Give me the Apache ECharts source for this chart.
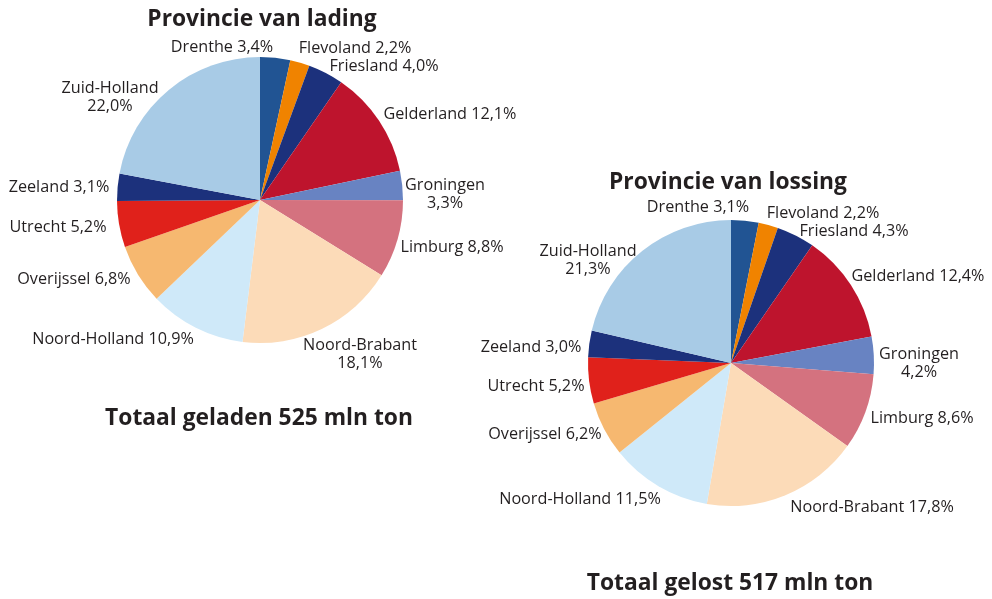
<!DOCTYPE html>
<html>
<head>
<meta charset="utf-8">
<script src="https://cdn.jsdelivr.net/npm/echarts@6/dist/echarts.min.js"></script>
<style>
  html, body { margin: 0; padding: 0; background: #fff; }
  #chart { width: 992px; height: 599px; }
</style>
</head>
<body>
<div id="chart"></div>
<script>
const provinces = ['Drenthe', 'Flevoland', 'Friesland', 'Gelderland', 'Groningen', 'Limburg',
  'Noord-Brabant', 'Noord-Holland', 'Overijssel', 'Utrecht', 'Zeeland', 'Zuid-Holland']
const colors = ['#215493', '#f08300', '#1c317c', '#be142d', '#6883c2', '#d4727f',
  '#fcdbb8', '#cfe9f9', '#f6b870', '#e0211b', '#1c317c', '#a8cbe6']

// aandeel in procent
const lading = [3.4, 2.2, 4.0, 12.1, 3.3, 8.8, 18.1, 10.9, 6.8, 5.2, 3.1, 22.0]
const lossing = [3.1, 2.2, 4.3, 12.4, 4.2, 8.6, 17.8, 11.5, 6.2, 5.2, 3.0, 21.3]

const totaalLading = 525
const totaalLossing = 517

// labels die over twee regels gaan
const wrapLading = ['Groningen', 'Noord-Brabant', 'Zuid-Holland']
const wrapLossing = ['Groningen', 'Zuid-Holland']

// labelposities (midden van de tekst)
const labelPosLading = [[222, 45], [355, 46], [384, 64], [450, 112], [445, 192], [452, 245],
  [360, 352], [113, 337], [74, 277], [58, 225], [59, 185], [110, 95]]
const labelPosLossing = [[698, 205], [823, 211], [854, 229], [918, 274], [919, 361], [922, 416],
  [872, 505], [580, 497], [545, 432], [536, 384], [531, 345], [588, 258]]

const font = 'Open Sans'

function pieSeries (values, wrap, pos, center) {
  return {
    type: 'pie',
    center: center,
    radius: 143,
    startAngle: 90,
    clockwise: true,
    avoidLabelOverlap: false,
    silent: true,
    itemStyle: { borderWidth: 0 },
    labelLine: { show: false },
    label: {
      show: true,
      position: 'outside',
      color: '#231f20',
      fontFamily: font,
      fontSize: 16.2,
      lineHeight: 18,
      align: 'center',
      formatter: p => {
        const v = p.value.toFixed(1).replace('.', ',') + '%'
        return wrap.includes(p.name) ? p.name + '\n' + v : p.name + ' ' + v
      }
    },
    labelLayout: p => ({
      x: pos[p.dataIndex][0],
      y: pos[p.dataIndex][1] + 2,
      align: 'center',
      verticalAlign: 'middle'
    }),
    data: provinces.map((name, i) => ({
      name: name,
      value: values[i],
      itemStyle: { color: colors[i] }
    }))
  }
}

const titleStyle = { color: '#231f20', fontFamily: font, fontWeight: 'bold', fontSize: 22.8 }

const chart = echarts.init(document.getElementById('chart'))
chart.setOption({
  animation: false,
  title: [
    { text: 'Provincie van lading', left: 257, top: 3, textAlign: 'center', textStyle: titleStyle },
    { text: 'Totaal geladen ' + totaalLading + ' mln ton', left: 254, top: 402, textAlign: 'center', textStyle: titleStyle },
    { text: 'Provincie van lossing', left: 723, top: 166, textAlign: 'center', textStyle: titleStyle },
    { text: 'Totaal gelost ' + totaalLossing + ' mln ton', left: 725, top: 567, textAlign: 'center', textStyle: titleStyle }
  ],
  series: [
    pieSeries(lading, wrapLading, labelPosLading, [260, 200]),
    pieSeries(lossing, wrapLossing, labelPosLossing, [731, 363])
  ]
})
</script>
</body>
</html>
